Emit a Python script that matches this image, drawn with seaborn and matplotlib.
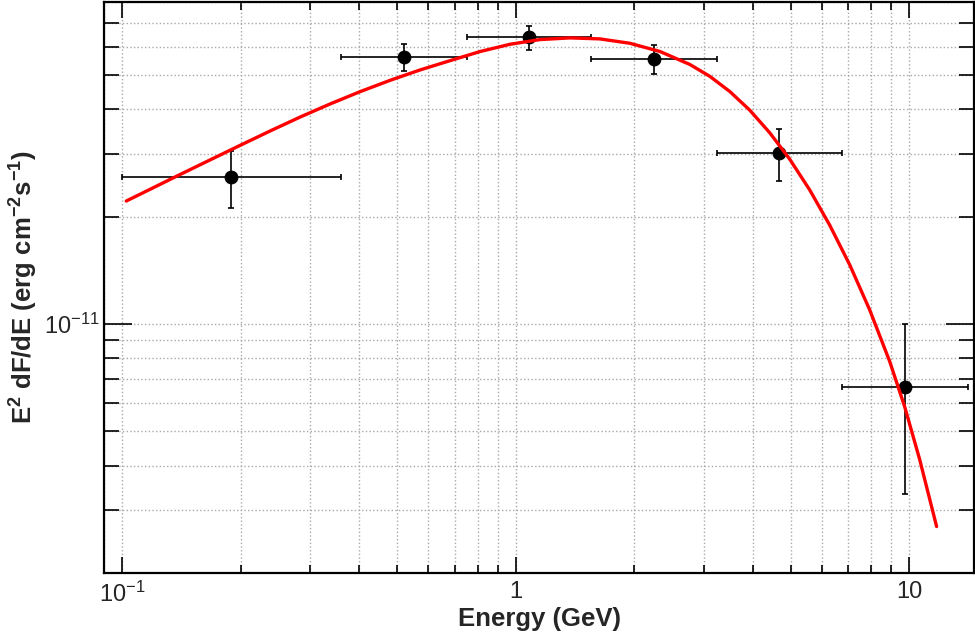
import numpy as np
import pandas as pd
import seaborn as sns
import matplotlib
matplotlib.use("Agg")
import matplotlib.pyplot as plt
from matplotlib.ticker import LogLocator, NullFormatter, FixedLocator, FixedFormatter

# SED points (GeV, erg cm^-2 s^-1)
energy = [0.189, 0.52, 1.08, 2.25, 4.66, 9.75]
e_low = [0.100, 0.359, 0.751, 1.55, 3.25, 6.75]
e_high = [0.359, 0.751, 1.55, 3.25, 6.75, 14.06]
flux = [2.58e-11, 5.60e-11, 6.36e-11, 5.52e-11, 3.02e-11, 6.63e-12]
flux_up = [3.05e-11, 6.08e-11, 6.83e-11, 6.06e-11, 3.52e-11, 9.98e-12]
flux_down = [2.12e-11, 5.13e-11, 5.88e-11, 5.01e-11, 2.51e-11, 3.34e-12]

# model curve
model_e = [0.1025, 0.1180, 0.1397, 0.1675, 0.1996, 0.2393, 0.2836, 0.3378,
           0.4025, 0.4797, 0.5715, 0.6810, 0.8116, 0.9672, 1.1526, 1.3734,
           1.6366, 1.9502, 2.3240, 2.7696, 3.113, 3.499, 3.933, 4.420, 4.968,
           5.584, 6.277, 7.055, 7.930, 8.913, 9.729, 10.62, 11.73]
model_flux = [2.211e-11, 2.387e-11, 2.617e-11, 2.885e-11, 3.169e-11, 3.488e-11,
              3.805e-11, 4.140e-11, 4.482e-11, 4.822e-11, 5.156e-11, 5.475e-11,
              5.807e-11, 6.087e-11, 6.274e-11, 6.343e-11, 6.302e-11, 6.126e-11,
              5.811e-11, 5.343e-11, 4.948e-11, 4.486e-11, 3.976e-11, 3.436e-11,
              2.897e-11, 2.375e-11, 1.892e-11, 1.465e-11, 1.0945e-11, 7.85e-12,
              5.86e-12, 4.17e-12, 2.70e-12]

xtick_vals = [0.1, 1, 10]
xtick_labels = [r"$10^{-1}$", "1", "10"]
ytick_vals = [1e-11]
ytick_labels = [r"$10^{-11}$"]

sns.set_theme(style="white")
plt.rcParams['font.family'] = ['Liberation Sans', 'DejaVu Sans']
plt.rcParams['mathtext.fontset'] = 'custom'
plt.rcParams['mathtext.rm'] = 'Liberation Sans'
plt.rcParams['mathtext.it'] = 'Liberation Sans:italic'
plt.rcParams['mathtext.bf'] = 'Liberation Sans:bold'

df_pts = pd.DataFrame({'E': energy, 'F': flux})
df_model = pd.DataFrame({'E': model_e, 'F': model_flux})

fig = plt.figure(figsize=(9.75, 6.36), dpi=100)
ax = fig.add_axes([0.1067, 0.0991, 0.8923, 0.8978])

xerr = [np.array(energy) - np.array(e_low), np.array(e_high) - np.array(energy)]
yerr = [np.array(flux) - np.array(flux_down), np.array(flux_up) - np.array(flux)]
ax.errorbar(energy, flux, xerr=xerr, yerr=yerr, fmt='none', ecolor='black',
            elinewidth=1.2, capsize=2.5, capthick=1.2, zorder=3)
sns.scatterplot(data=df_pts, x='E', y='F', color='black', edgecolor='black',
                s=85, ax=ax, zorder=4, legend=False)
sns.lineplot(data=df_model, x='E', y='F', color='red', lw=2.4, ax=ax,
             sort=False, zorder=5, legend=False)

ax.set_xscale('log')
ax.set_yscale('log')
ax.set_xlim(0.09, 14.6)
ax.set_ylim(2e-12, 8e-11)

ax.xaxis.set_major_locator(FixedLocator(xtick_vals))
ax.xaxis.set_major_formatter(FixedFormatter(xtick_labels))
ax.yaxis.set_major_locator(FixedLocator(ytick_vals))
ax.yaxis.set_major_formatter(FixedFormatter(ytick_labels))
ax.xaxis.set_minor_locator(LogLocator(base=10, subs=np.arange(2, 10)))
ax.yaxis.set_minor_locator(LogLocator(base=10, subs=np.arange(2, 10)))
ax.xaxis.set_minor_formatter(NullFormatter())
ax.yaxis.set_minor_formatter(NullFormatter())

ax.grid(True, which='both', ls=':', color='#a8a8a8', lw=1)
ax.tick_params(which='both', direction='in', top=True, right=True, left=True,
               bottom=True, color='black', width=1.2, labelsize=17)
ax.tick_params(axis='x', which='major', length=11.5, pad=6)
ax.tick_params(axis='x', which='minor', length=5.5)
ax.tick_params(axis='y', which='major', length=20, pad=3)
ax.tick_params(axis='y', which='minor', length=10.5)
for s in ax.spines.values():
    s.set_color('black')
    s.set_linewidth(1.6)

ax.set_xlabel('Energy (GeV)', fontsize=18.5, fontweight='bold', labelpad=0)
ax.set_ylabel(r'E$^{\mathbf{2}}$ dF/dE (erg cm$^{\mathbf{-2}}$s$^{\mathbf{-1}}$)',
              fontsize=18.5, fontweight='bold', labelpad=3)

fig.savefig('out.png', dpi=100)
